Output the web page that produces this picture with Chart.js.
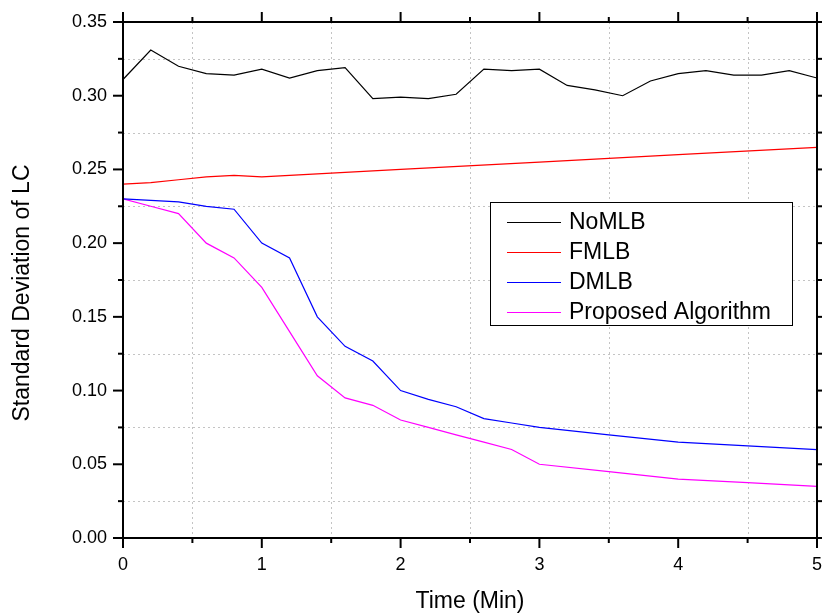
<!DOCTYPE html>
<html>
<head>
<meta charset="utf-8">
<script src="https://cdn.jsdelivr.net/npm/chart.js@4.4.1/dist/chart.umd.min.js"></script>
<style>
  html, body { margin: 0; padding: 0; background: #fff; }
</style>
</head>
<body>
<canvas id="chart" width="822" height="615"></canvas>
<script>
// data
const seriesNames = ['NoMLB', 'FMLB', 'DMLB', 'Proposed Algorithm'];
const seriesColors = ['#000000', '#ff0000', '#0000ff', '#ff00ff'];

const noMLBTime = [0, 0.2, 0.4, 0.6, 0.8, 1, 1.2, 1.4, 1.6, 1.8, 2, 2.2, 2.4, 2.6, 2.8, 3, 3.2, 3.4, 3.6, 3.8, 4, 4.2, 4.4, 4.6, 4.8, 5];
const noMLB = [0.311, 0.331, 0.320, 0.315, 0.314, 0.318, 0.312, 0.317, 0.319, 0.298, 0.299, 0.298, 0.301, 0.318, 0.317, 0.318, 0.307, 0.304, 0.300, 0.310, 0.315, 0.317, 0.314, 0.314, 0.317, 0.312];

const fmlbTime = [0, 0.2, 0.4, 0.6, 0.8, 1, 2, 3, 4, 5];
const fmlb = [0.240, 0.241, 0.243, 0.245, 0.246, 0.245, 0.250, 0.255, 0.260, 0.265];

const dmlbTime = [0, 0.2, 0.4, 0.6, 0.8, 1, 1.2, 1.4, 1.6, 1.8, 2, 2.2, 2.4, 2.6, 2.8, 3, 3.5, 4, 4.5, 5];
const dmlb = [0.230, 0.229, 0.228, 0.225, 0.223, 0.200, 0.190, 0.150, 0.130, 0.120, 0.100, 0.094, 0.089, 0.081, 0.078, 0.075, 0.070, 0.065, 0.0625, 0.060];

const propTime = [0, 0.2, 0.4, 0.6, 0.8, 1, 1.2, 1.4, 1.6, 1.8, 2, 2.2, 2.4, 2.6, 2.8, 3, 3.5, 4, 4.5, 5];
const prop = [0.230, 0.225, 0.220, 0.200, 0.190, 0.170, 0.140, 0.110, 0.095, 0.090, 0.080, 0.075, 0.070, 0.065, 0.060, 0.050, 0.045, 0.040, 0.0375, 0.035];

const xMajorTicks = [0, 1, 2, 3, 4, 5];
const xMinorTicks = [0.5, 1.5, 2.5, 3.5, 4.5];
const yMajorTicks = [0, 0.05, 0.10, 0.15, 0.20, 0.25, 0.30, 0.35];
const yMinorTicks = [0.025, 0.075, 0.125, 0.175, 0.225, 0.275, 0.325];

const xTitle = 'Time (Min)';
const yTitle = 'Standard Deviation of LC';

const FONT = '"Liberation Sans", Arial, sans-serif';

function toPoints(xs, ys) {
  return xs.map((x, i) => ({ x: x, y: ys[i] }));
}

// grid, frame, ticks and legend in the Origin style
const originFrame = {
  id: 'originFrame',
  beforeDatasetsDraw(chart) {
    const { ctx, chartArea: a, scales: { x, y } } = chart;
    ctx.save();
    ctx.strokeStyle = '#c4c4c4';
    ctx.lineWidth = 1;
    ctx.setLineDash([2, 3]);
    xMinorTicks.forEach(v => {
      const px = Math.round(x.getPixelForValue(v)) + 0.5;
      ctx.beginPath(); ctx.moveTo(px, a.top); ctx.lineTo(px, a.bottom); ctx.stroke();
    });
    yMinorTicks.forEach(v => {
      const py = Math.round(y.getPixelForValue(v)) + 0.5;
      ctx.beginPath(); ctx.moveTo(a.left, py); ctx.lineTo(a.right, py); ctx.stroke();
    });
    ctx.restore();
  },
  afterDatasetsDraw(chart) {
    const { ctx, chartArea: a, scales: { x, y } } = chart;
    ctx.save();
    ctx.strokeStyle = '#000';
    ctx.lineWidth = 2;
    ctx.strokeRect(a.left, a.top, a.right - a.left, a.bottom - a.top);

    const tick = (x1, y1, x2, y2) => {
      ctx.beginPath(); ctx.moveTo(x1, y1); ctx.lineTo(x2, y2); ctx.stroke();
    };
    xMajorTicks.forEach(v => {
      const px = x.getPixelForValue(v);
      tick(px, a.bottom, px, a.bottom + 10);
      tick(px, a.top, px, a.top - 10);
    });
    xMinorTicks.forEach(v => {
      const px = x.getPixelForValue(v);
      tick(px, a.bottom, px, a.bottom + 5);
      tick(px, a.top, px, a.top - 5);
    });
    yMajorTicks.forEach(v => {
      const py = y.getPixelForValue(v);
      tick(a.left, py, a.left - 10, py);
      tick(a.right, py, a.right + 10, py);
    });
    yMinorTicks.forEach(v => {
      const py = y.getPixelForValue(v);
      tick(a.left, py, a.left - 5, py);
      tick(a.right, py, a.right + 5, py);
    });

    // y axis title, placed a bit below the middle like the original
    ctx.save();
    ctx.translate(23, (a.top + a.bottom) / 2 + 13);
    ctx.rotate(-Math.PI / 2);
    ctx.font = '23px ' + FONT;
    ctx.fillStyle = '#000';
    ctx.textAlign = 'center';
    ctx.textBaseline = 'middle';
    ctx.fillText(yTitle, 0, 0);
    ctx.restore();

    // legend box
    const bx = a.left + 367, by = a.top + 180, bw = 302, bh = 123;
    ctx.fillStyle = '#fff';
    ctx.fillRect(bx, by, bw, bh);
    ctx.lineWidth = 1;
    ctx.strokeStyle = '#000';
    ctx.strokeRect(bx + 0.5, by + 0.5, bw, bh);
    ctx.font = '23px ' + FONT;
    ctx.textBaseline = 'middle';
    ctx.textAlign = 'left';
    chart.data.datasets.forEach((ds, i) => {
      const ry = by + 20 + i * 30;
      ctx.strokeStyle = ds.borderColor;
      ctx.beginPath(); ctx.moveTo(bx + 17, ry + 0.5); ctx.lineTo(bx + 71, ry + 0.5); ctx.stroke();
      ctx.fillStyle = '#000';
      ctx.fillText(ds.label, bx + 79, ry + 1);
    });
    ctx.restore();
  }
};

new Chart(document.getElementById('chart').getContext('2d'), {
  type: 'line',
  data: {
    datasets: [
      { label: seriesNames[0], data: toPoints(noMLBTime, noMLB), borderColor: seriesColors[0] },
      { label: seriesNames[1], data: toPoints(fmlbTime, fmlb), borderColor: seriesColors[1] },
      { label: seriesNames[2], data: toPoints(dmlbTime, dmlb), borderColor: seriesColors[2] },
      { label: seriesNames[3], data: toPoints(propTime, prop), borderColor: seriesColors[3] }
    ]
  },
  options: {
    responsive: false,
    animation: false,
    layout: { padding: { top: 22, right: 5, left: 0, bottom: 0 } },
    elements: {
      line: { borderWidth: 1.2, tension: 0, fill: false },
      point: { radius: 0 }
    },
    plugins: {
      legend: { display: false },
      tooltip: { enabled: false }
    },
    scales: {
      x: {
        type: 'linear',
        min: 0,
        max: 5,
        afterFit: s => { s.height = 77; s.paddingLeft = 0; s.paddingRight = 0; },
        afterBuildTicks: s => { s.ticks = xMajorTicks.map(v => ({ value: v })); },
        grid: { display: false, drawTicks: false },
        border: { display: false },
        ticks: {
          color: '#000',
          padding: 16,
          maxRotation: 0,
          font: { family: FONT, size: 18 },
          callback: v => String(v)
        },
        title: {
          display: true,
          text: xTitle,
          color: '#000',
          font: { family: FONT, size: 23 },
          padding: { top: 0, bottom: 0 }
        }
      },
      y: {
        min: 0,
        max: 0.35,
        afterFit: s => { s.width = 123; s.paddingTop = 0; s.paddingBottom = 0; },
        afterBuildTicks: s => { s.ticks = yMajorTicks.map(v => ({ value: v })); },
        grid: { display: false, drawTicks: false },
        border: { display: false },
        ticks: {
          color: '#000',
          padding: 16,
          font: { family: FONT, size: 18 },
          callback: v => Number(v).toFixed(2)
        }
      }
    }
  },
  plugins: [originFrame]
});
</script>
</body>
</html>
